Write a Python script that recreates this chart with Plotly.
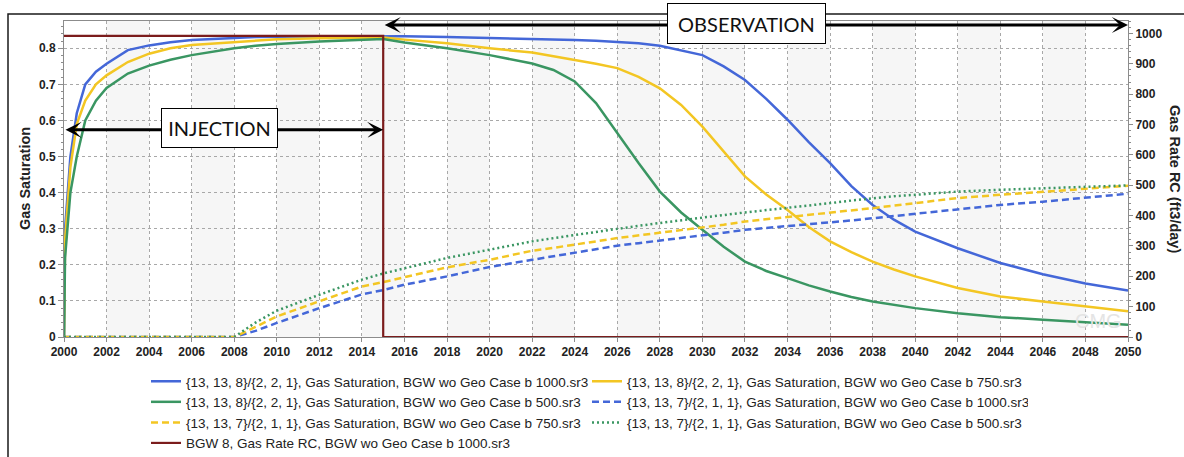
import plotly.graph_objects as go

# ---------------- data ----------------
years = [2000, 2000.05, 2000.3, 2000.6, 2001, 2001.5, 2002, 2003, 2004, 2005, 2006,
         2008, 2009, 2010, 2012, 2014, 2015, 2016, 2018, 2020, 2022,
         2023, 2024, 2025, 2026, 2027, 2028, 2029, 2030, 2031, 2032, 2033, 2034, 2035,
         2036, 2037, 2038, 2039, 2040,
         2042, 2044, 2046, 2048, 2050]

sat_8_1000 = [0, 0.30, 0.50, 0.62, 0.70, 0.735, 0.757, 0.795, 0.808, 0.817, 0.823,
              0.829, 0.831, 0.832, 0.833, 0.834, 0.834, 0.833, 0.831, 0.829, 0.826,
              0.825, 0.823, 0.821, 0.818, 0.814, 0.807, 0.795, 0.781, 0.750, 0.712, 0.660, 0.602, 0.540,
              0.482, 0.418, 0.366, 0.325, 0.292,
              0.246, 0.205, 0.174, 0.148, 0.129]

sat_8_750 = [0, 0.27, 0.47, 0.59, 0.655, 0.700, 0.725, 0.762, 0.785, 0.800, 0.809,
             0.818, 0.822, 0.825, 0.828, 0.830, 0.830, 0.824, 0.814, 0.800, 0.788,
             0.778, 0.768, 0.757, 0.745, 0.721, 0.689, 0.643, 0.583, 0.515, 0.445, 0.395, 0.352, 0.305,
             0.265, 0.235, 0.209, 0.187, 0.168,
             0.136, 0.112, 0.0985, 0.085, 0.071]

sat_8_500 = [0, 0.22, 0.40, 0.50, 0.60, 0.655, 0.690, 0.730, 0.752, 0.768, 0.781,
             0.800, 0.807, 0.812, 0.819, 0.824, 0.826, 0.816, 0.800, 0.781, 0.758,
             0.740, 0.708, 0.648, 0.565, 0.482, 0.403, 0.345, 0.297, 0.250, 0.209, 0.183, 0.163, 0.143,
             0.126, 0.111, 0.0985, 0.089, 0.080,
             0.066, 0.055, 0.048, 0.040, 0.034]

sat_7_1000 = [0, 0, 0, 0, 0, 0, 0, 0, 0, 0, 0,
              0, 0.017, 0.039, 0.080, 0.118, 0.130, 0.145, 0.168, 0.194, 0.214,
              0.224, 0.234, 0.244, 0.253, 0.260, 0.267, 0.274, 0.280, 0.289, 0.297, 0.302, 0.306, 0.313,
              0.318, 0.323, 0.329, 0.335, 0.341,
              0.354, 0.366, 0.375, 0.385, 0.397]

sat_7_750 = [0, 0, 0, 0, 0, 0, 0, 0, 0, 0, 0,
             0, 0.028, 0.057, 0.099, 0.140, 0.152, 0.165, 0.193, 0.214, 0.239,
             0.247, 0.255, 0.265, 0.274, 0.281, 0.288, 0.295, 0.302, 0.311, 0.320, 0.326, 0.331, 0.337,
             0.343, 0.350, 0.357, 0.364, 0.371,
             0.385, 0.394, 0.403, 0.412, 0.419]

sat_7_500 = [0, 0, 0, 0, 0, 0, 0, 0, 0, 0, 0,
             0, 0.040, 0.073, 0.117, 0.159, 0.176, 0.190, 0.219, 0.242, 0.265,
             0.274, 0.283, 0.291, 0.299, 0.308, 0.316, 0.324, 0.331, 0.338, 0.345, 0.351, 0.357, 0.364,
             0.371, 0.378, 0.385, 0.390, 0.394,
             0.403, 0.408, 0.412, 0.417, 0.420]

rate_years = [2000, 2015, 2015, 2050]
gas_rate = [992, 992, 0, 0]

names = [
    "{13, 13, 8}/{2, 2, 1}, Gas Saturation, BGW wo Geo Case b 1000.sr3",
    "{13, 13, 8}/{2, 2, 1}, Gas Saturation, BGW wo Geo Case b 750.sr3",
    "{13, 13, 8}/{2, 2, 1}, Gas Saturation, BGW wo Geo Case b 500.sr3",
    "{13, 13, 7}/{2, 1, 1}, Gas Saturation, BGW wo Geo Case b 1000.sr3",
    "{13, 13, 7}/{2, 1, 1}, Gas Saturation, BGW wo Geo Case b 750.sr3",
    "{13, 13, 7}/{2, 1, 1}, Gas Saturation, BGW wo Geo Case b 500.sr3",
    "BGW 8, Gas Rate RC, BGW wo Geo Case b 1000.sr3",
]

# ---------------- styling ----------------
BLUE = "#4467d8"
YELLOW = "#f3c623"
GREEN = "#3a9662"
BROWN = "#7b1c1c"

W, H = 1184, 457
ML, MR, MT, MB = 64, 56, 21, 120
PW, PH = W - ML - MR, H - MT - MB


def px_x(p):
    return (p - ML) / PW


def px_y(p):
    return (H - MB - p) / PH


fig = go.Figure()
series = [
    (sat_8_1000, BLUE, "solid"),
    (sat_8_750, YELLOW, "solid"),
    (sat_8_500, GREEN, "solid"),
    (sat_7_1000, BLUE, "7px,4px"),
    (sat_7_750, YELLOW, "7px,4px"),
    (sat_7_500, GREEN, "2px,3px"),
]
for (vals, col, dash), nm in zip(series, names[:6]):
    fig.add_trace(go.Scatter(x=years, y=vals, mode="lines", name=nm,
                             line=dict(color=col, width=2.5, dash=dash)))
fig.add_trace(go.Scatter(x=rate_years, y=gas_rate, mode="lines", name=names[6],
                         yaxis="y2", line=dict(color=BROWN, width=2.2)))

tickfont = dict(family="Liberation Sans, Arial, sans-serif", size=12, color="#222222", weight="bold")
axcol = "#8c8c8c"

shapes = []
for y0 in range(2002, 2050, 4):
    shapes.append(dict(type="rect", xref="x", yref="paper", x0=y0, x1=y0 + 2, y0=0, y1=1,
                       fillcolor="#f6f6f6", line=dict(width=0), layer="below"))
# outer frame
shapes.append(dict(type="rect", xref="paper", yref="paper",
                   x0=px_x(8), x1=px_x(1195), y0=px_y(470), y1=px_y(14),
                   line=dict(color="#1a1a1a", width=1.5), fillcolor="rgba(0,0,0,0)", layer="above"))

box_font = dict(family="Lato, sans-serif", size=20, color="#111111")
title_font = dict(family="Liberation Sans, Arial, sans-serif", size=14.5, color="#222222", weight="bold")
annotations = [
    # double-headed arrows
    dict(x=2015, y=0.574, ax=2000, ay=0.574, xref="x", yref="y", axref="x", ayref="y",
         text="", showarrow=True, arrowhead=3, arrowside="end+start", arrowwidth=3,
         arrowsize=0.9, arrowcolor="#000000", standoff=0, startstandoff=0),
    dict(x=2050, y=0.8645, ax=2015, ay=0.8645, xref="x", yref="y", axref="x", ayref="y",
         text="", showarrow=True, arrowhead=3, arrowside="end+start", arrowwidth=3,
         arrowsize=0.9, arrowcolor="#000000", standoff=0, startstandoff=0),
    dict(x=2007.31, y=0.579, xref="x", yref="y", text="INJECTION", showarrow=False,
         font=box_font, bgcolor="#ffffff", bordercolor="#000000", borderwidth=1,
         borderpad=2, width=111, height=34),
    dict(x=2032.07, y=0.8687, xref="x", yref="y", text="OBSERVATION", showarrow=False,
         font=box_font, bgcolor="#ffffff", bordercolor="#000000", borderwidth=1,
         borderpad=2, width=153, height=35),
    # axis titles
    dict(x=px_x(25), y=0.5, xref="paper", yref="paper", xanchor="center", yanchor="middle",
         text="Gas Saturation", showarrow=False, textangle=-90, font=title_font),
    dict(x=px_x(1175), y=0.5, xref="paper", yref="paper", xanchor="center", yanchor="middle",
         text="Gas Rate RC (ft3/day)", showarrow=False, textangle=90, font=title_font),
    # faint watermark
    dict(x=2048.6, y=0.045, xref="x", yref="y", text="CMG", showarrow=False,
         font=dict(family="Liberation Sans, Arial, sans-serif", size=20, color="#e4e4e4")),
]

fig.update_layout(
    width=W, height=H,
    margin=dict(l=ML, r=MR, t=MT, b=MB, autoexpand=False),
    paper_bgcolor="#ffffff", plot_bgcolor="#ffffff",
    showlegend=True,
    legend=dict(orientation="h", x=px_x(146), y=px_y(366), xanchor="left", yanchor="top",
                entrywidth=396, entrywidthmode="pixels", bgcolor="rgba(0,0,0,0)",
                font=dict(family="Liberation Sans, Arial, sans-serif", size=13.5, color="#222222")),
    xaxis=dict(range=[2000, 2050], tick0=2000, dtick=2, showgrid=True, griddash="dot",
               gridcolor="#a8a8a8", gridwidth=1, zeroline=False, showline=True,
               linecolor=axcol, linewidth=1, mirror=True, ticks="outside", ticklen=4,
               tickcolor=axcol, tickfont=tickfont, layer="below traces"),
    yaxis=dict(range=[0, 0.8756], tick0=0, dtick=0.1, showgrid=True, griddash="dot",
               gridcolor="#a8a8a8", gridwidth=1, zeroline=False, showline=True,
               linecolor=axcol, linewidth=1, ticks="outside", ticklen=5, tickcolor=axcol,
               tickfont=tickfont, layer="below traces",
               minor=dict(ticks="outside", ticklen=2, dtick=0.02, tickcolor=axcol, showgrid=False)),
    yaxis2=dict(range=[0, 1041], tick0=0, dtick=100, overlaying="y", side="right",
                showgrid=False, zeroline=False, showline=True, linecolor=axcol, linewidth=1,
                ticks="outside", ticklen=4, tickcolor=axcol, tickfont=tickfont,
                layer="below traces",
                minor=dict(ticks="outside", ticklen=2, dtick=20, tickcolor=axcol, showgrid=False)),
    shapes=shapes,
    annotations=annotations,
)

fig.write_html("out.html")
